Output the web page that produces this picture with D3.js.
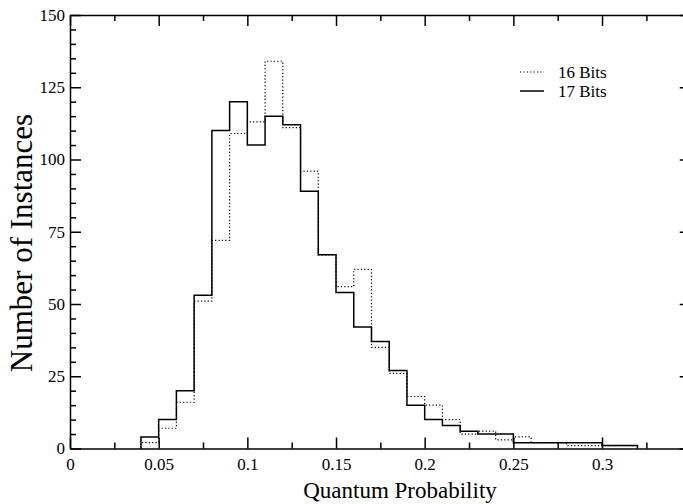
<!DOCTYPE html>
<html>
<head>
<meta charset="utf-8">
<script src="https://cdn.jsdelivr.net/npm/d3@7/dist/d3.min.js"></script>
<style>
  body { margin: 0; background: #fff; overflow: hidden; }
  svg { display: block; }
  .axis path, .axis line { stroke: #000; stroke-width: 1.5; }
  .title { font-family: "Liberation Serif", "DejaVu Serif", serif; fill: #000; }
  .legend { font-family: "Liberation Serif", "DejaVu Serif", serif; font-size: 17px; fill: #000; }
</style>
</head>
<body>
<div id="chart"></div>
<script>
(function () {
  // left edge of each 0.01 wide bin
  const binStart = [
    0.04, 0.05, 0.06, 0.07, 0.08, 0.09, 0.10, 0.11, 0.12, 0.13,
    0.14, 0.15, 0.16, 0.17, 0.18, 0.19, 0.20, 0.21, 0.22, 0.23,
    0.24, 0.25, 0.26, 0.27, 0.28, 0.29, 0.30, 0.31
  ];
  const binWidth = 0.01;

  // 16 Bits (dotted)
  const bits16 = [
    2, 7, 16, 51, 72, 109, 113, 134, 111, 96,
    67, 56, 62, 35, 26, 18, 15, 10, 5, 6,
    3, 4, 2, 2, 1, 1, 1, 1
  ];

  // 17 Bits (solid)
  const bits17 = [
    4, 10, 20, 53, 110, 120, 105, 115, 112, 89,
    67, 54, 42, 37, 27, 15, 10, 8, 6, 5,
    5, 2, 2, 2, 2, 2, 1, 1
  ];

  const xTicks = [0, 0.05, 0.1, 0.15, 0.2, 0.25, 0.3, 0.35];
  const xTickLabels = ["0", "0.05", "0.1", "0.15", "0.2", "0.25", "0.3", ""];
  const yTicks = [0, 25, 50, 75, 100, 125, 150];

  const series = [
    {name: "16 Bits", values: bits16, dash: "1.2,2.2", width: 1.2},
    {name: "17 Bits", values: bits17, dash: null, width: 1.5}
  ];

  const serif = '"Liberation Serif", "DejaVu Serif", serif';

  const W = 683, H = 504;
  const margin = {top: 15, left: 70};
  const width = 620.7;   // right frame falls just outside the picture
  const height = 433.5;

  const svg = d3.select("#chart").append("svg")
    .attr("width", W)
    .attr("height", H);

  const g = svg.append("g")
    .attr("transform", "translate(" + margin.left + "," + margin.top + ")");

  const x = d3.scaleLinear().domain([0, 0.35]).range([0, width]);
  const y = d3.scaleLinear().domain([0, 150]).range([height, 0]);

  const xMinor = d3.range(0.025, 0.35, 0.05);
  const yMinor = d3.range(5, 150, 5).filter(function (v) { return v % 25 !== 0; });

  function styleAxis(sel) {
    sel.attr("class", "axis")
      .attr("font-family", serif)
      .attr("font-size", 17);
    sel.selectAll("text")
      .style("font-family", serif)
      .style("font-size", "17px")
      .attr("fill", "#000");
  }

  // minor ticks first, then major axes on top
  g.append("g")
    .attr("transform", "translate(0," + height + ")")
    .call(d3.axisBottom(x).tickValues(xMinor).tickSize(-6).tickFormat(""))
    .call(styleAxis)
    .select(".domain").remove();
  g.append("g")
    .call(d3.axisTop(x).tickValues(xMinor).tickSize(-6).tickFormat(""))
    .call(styleAxis)
    .select(".domain").remove();
  g.append("g")
    .call(d3.axisLeft(y).tickValues(yMinor).tickSize(-6).tickFormat(""))
    .call(styleAxis)
    .select(".domain").remove();
  g.append("g")
    .attr("transform", "translate(" + width + ",0)")
    .call(d3.axisRight(y).tickValues(yMinor).tickSize(-6).tickFormat(""))
    .call(styleAxis)
    .select(".domain").remove();

  const xAxis = g.append("g")
    .attr("transform", "translate(0," + height + ")")
    .call(d3.axisBottom(x).tickValues(xTicks).tickSizeInner(-11).tickSizeOuter(0)
      .tickPadding(5)
      .tickFormat(function (d, i) { return xTickLabels[i]; }))
    .call(styleAxis);
  xAxis.selectAll("text").attr("dy", "0.95em");

  g.append("g")
    .call(d3.axisTop(x).tickValues(xTicks).tickSizeInner(-11).tickSizeOuter(0).tickFormat(""))
    .call(styleAxis);

  g.append("g")
    .call(d3.axisLeft(y).tickValues(yTicks).tickSizeInner(-11).tickSizeOuter(0)
      .tickPadding(5).tickFormat(d3.format("d")))
    .call(styleAxis);

  g.append("g")
    .attr("transform", "translate(" + width + ",0)")
    .call(d3.axisRight(y).tickValues(yTicks).tickSizeInner(-11).tickSizeOuter(0).tickFormat(""))
    .call(styleAxis);

  // step outlines
  const step = d3.line()
    .x(function (d) { return x(d[0]); })
    .y(function (d) { return y(d[1]); })
    .curve(d3.curveStepAfter);

  series.forEach(function (s) {
    const pts = [[binStart[0], 0]];
    binStart.forEach(function (b, i) { pts.push([b, s.values[i]]); });
    pts.push([binStart[binStart.length - 1] + binWidth, 0]);

    g.append("path")
      .attr("d", step(pts))
      .attr("fill", "none")
      .attr("stroke", "#000")
      .attr("stroke-width", s.width)
      .attr("stroke-dasharray", s.dash);
  });

  // legend
  const legend = g.append("g").attr("transform", "translate(450,57)");
  series.forEach(function (s, i) {
    legend.append("line")
      .attr("x1", 0).attr("x2", 24)
      .attr("y1", i * 19).attr("y2", i * 19)
      .attr("stroke", "#000")
      .attr("stroke-width", s.width)
      .attr("stroke-dasharray", s.dash);
    legend.append("text")
      .attr("class", "legend")
      .attr("x", 38)
      .attr("y", i * 19)
      .attr("dy", "0.33em")
      .text(s.name);
  });

  // axis titles
  svg.append("text")
    .attr("class", "title")
    .attr("x", 400)
    .attr("y", 498)
    .attr("text-anchor", "middle")
    .style("font-size", "23px")
    .text("Quantum Probability");

  svg.append("text")
    .attr("class", "title")
    .attr("transform", "translate(32,243) rotate(-90)")
    .attr("text-anchor", "middle")
    .style("font-size", "31px")
    .text("Number of Instances");
})();
</script>
</body>
</html>
